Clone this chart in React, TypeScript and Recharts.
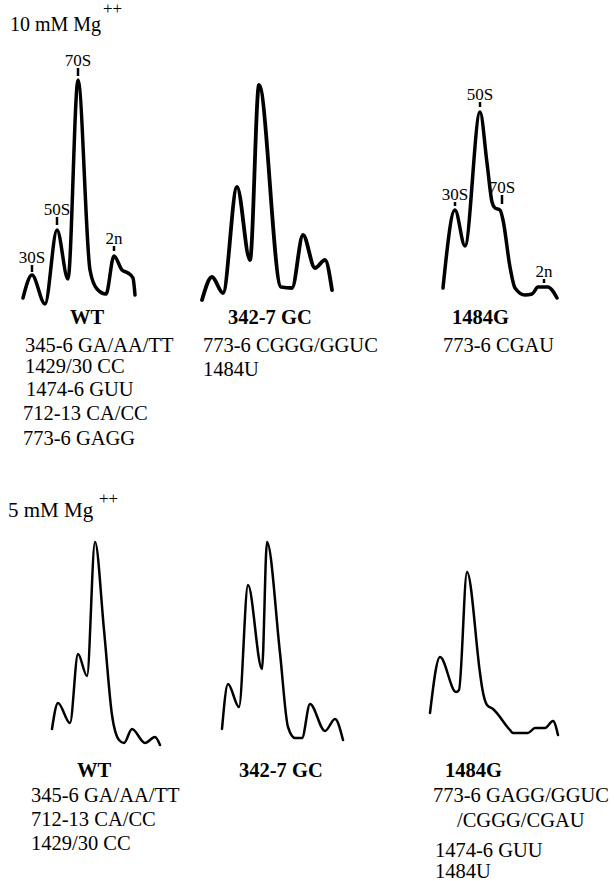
import React from 'react';
import { ComposedChart, Line, XAxis, YAxis, ReferenceLine, ReferenceDot } from 'recharts';

// Sedimentation profiles: pos = position along gradient, a260 = absorbance (arbitrary units)
const wt10 = [
  { pos: 8, a260: 12 }, { pos: 17, a260: 35 }, { pos: 30, a260: 6 }, { pos: 42, a260: 80 },
  { pos: 53, a260: 31 }, { pos: 63, a260: 230 }, { pos: 75, a260: 40 }, { pos: 82, a260: 21 },
  { pos: 91, a260: 16 }, { pos: 99, a260: 54 }, { pos: 107, a260: 40 }, { pos: 113, a260: 37 },
  { pos: 118, a260: 32 }, { pos: 120, a260: 15 },
];
const gc10 = [
  { pos: 7, a260: 10 }, { pos: 17, a260: 33 }, { pos: 28, a260: 17 }, { pos: 42, a260: 123 },
  { pos: 55, a260: 50 }, { pos: 64, a260: 225 }, { pos: 86, a260: 23 }, { pos: 97, a260: 22 },
  { pos: 108, a260: 75 }, { pos: 120, a260: 42 }, { pos: 130, a260: 50 }, { pos: 137, a260: 20 },
];
const g1484_10 = [
  { pos: 8, a260: 22 }, { pos: 20, a260: 100 }, { pos: 30, a260: 64 }, { pos: 45, a260: 198 },
  { pos: 52, a260: 147 }, { pos: 57, a260: 108 }, { pos: 60, a260: 102 }, { pos: 65, a260: 100 },
  { pos: 68, a260: 90 }, { pos: 75, a260: 43 }, { pos: 80, a260: 22 }, { pos: 90, a260: 15 },
  { pos: 97, a260: 16 }, { pos: 103, a260: 23 }, { pos: 113, a260: 23 }, { pos: 117, a260: 20 },
  { pos: 122, a260: 12 },
];
const wt5 = [
  { pos: 7, a260: 31 }, { pos: 13, a260: 57 }, { pos: 25, a260: 37 }, { pos: 33, a260: 106 },
  { pos: 42, a260: 84 }, { pos: 50, a260: 218 }, { pos: 59, a260: 130 }, { pos: 67, a260: 45 },
  { pos: 74, a260: 20 }, { pos: 79, a260: 17 }, { pos: 87, a260: 31 }, { pos: 100, a260: 17 },
  { pos: 110, a260: 23 }, { pos: 115, a260: 15 },
];
const gc5 = [
  { pos: 7, a260: 31 }, { pos: 13, a260: 76 }, { pos: 24, a260: 53 }, { pos: 33, a260: 175 },
  { pos: 47, a260: 91 }, { pos: 52, a260: 218 }, { pos: 65, a260: 107 }, { pos: 73, a260: 33 },
  { pos: 80, a260: 22 }, { pos: 87, a260: 22 }, { pos: 95, a260: 56 }, { pos: 110, a260: 29 },
  { pos: 120, a260: 41 }, { pos: 128, a260: 20 },
];
const g1484_5 = [
  { pos: 5, a260: 47 }, { pos: 15, a260: 103 }, { pos: 31, a260: 68 }, { pos: 34, a260: 70 },
  { pos: 42, a260: 188 }, { pos: 55, a260: 87 }, { pos: 57, a260: 73 }, { pos: 62, a260: 55 },
  { pos: 68, a260: 51 }, { pos: 85, a260: 30 }, { pos: 88, a260: 27 }, { pos: 103, a260: 27 },
  { pos: 110, a260: 32 }, { pos: 120, a260: 32 }, { pos: 128, a260: 39 }, { pos: 133, a260: 25 },
];

// Peak annotations (tick from..to in absorbance units)
const wt10Peaks = [
  { label: '30S', pos: 17, from: 38, to: 45 },
  { label: '50S', pos: 42, from: 85, to: 93 },
  { label: '70S', pos: 63, from: 234, to: 242 },
  { label: '2n', pos: 99, from: 59, to: 64 },
];
const g1484_10Peaks = [
  { label: '30S', pos: 20, from: 104, to: 108 },
  { label: '50S', pos: 45, from: 203, to: 208 },
  { label: '70S', pos: 67, from: 106, to: 115 },
  { label: '2n', pos: 109, from: 27, to: 31 },
];

const FONT = '"Liberation Serif", serif';

type Pt = { pos: number; a260: number };
type Peak = { label: string; pos: number; from: number; to: number };

function Profile(props: { data: Pt[]; peaks?: Peak[]; left: number; top: number; w: number; h: number; sw: number }) {
  const { data, peaks = [], left, top, w, h, sw } = props;
  return (
    <div style={{ position: 'absolute', left, top, width: w, height: h, fontFamily: FONT }}>
      <ComposedChart width={w} height={h} data={data} margin={{ top: 0, right: 0, bottom: 0, left: 0 }} style={{ overflow: 'visible', fontFamily: FONT }}>
        <XAxis dataKey="pos" type="number" domain={[0, w]} hide allowDataOverflow />
        <YAxis type="number" domain={[0, h]} hide allowDataOverflow />
        <Line
          type="monotone"
          dataKey="a260"
          stroke="#000"
          strokeWidth={sw}
          dot={false}
          activeDot={false}
          isAnimationActive={false}
          strokeLinecap="round"
          strokeLinejoin="round"
        />
        {peaks.map((p) => (
          <ReferenceLine
            key={'l' + p.label}
            segment={[{ x: p.pos, y: p.from }, { x: p.pos, y: p.to }]}
            stroke="#000"
            strokeWidth={2.5}
            ifOverflow="visible"
          />
        ))}
        {peaks.map((p) => (
          <ReferenceDot
            key={'d' + p.label}
            x={p.pos}
            y={p.to}
            r={0}
            fill="none"
            stroke="none"
            ifOverflow="visible"
            label={{ value: p.label, position: 'top', offset: 2, fill: '#000', fontSize: 17, style: { fontFamily: FONT } }}
          />
        ))}
      </ComposedChart>
    </div>
  );
}

type T = { t: string; x: number; y: number; b?: boolean; mid?: boolean };
const texts: T[] = [
  { t: 'WT', x: 87, y: 324, b: true, mid: true },
  { t: '345-6 GA/AA/TT', x: 25, y: 352 },
  { t: '1429/30 CC', x: 25, y: 373 },
  { t: '1474-6 GUU', x: 26, y: 396 },
  { t: '712-13 CA/CC', x: 23, y: 420 },
  { t: '773-6 GAGG', x: 23, y: 445 },
  { t: '342-7 GC', x: 228, y: 324, b: true },
  { t: '773-6 CGGG/GGUC', x: 203, y: 352 },
  { t: '1484U', x: 203, y: 376 },
  { t: '1484G', x: 452, y: 324, b: true },
  { t: '773-6 CGAU', x: 443, y: 352 },
  { t: 'WT', x: 94, y: 777, b: true, mid: true },
  { t: '345-6 GA/AA/TT', x: 31, y: 802 },
  { t: '712-13 CA/CC', x: 31, y: 826 },
  { t: '1429/30 CC', x: 31, y: 850 },
  { t: '342-7 GC', x: 239, y: 777, b: true },
  { t: '1484G', x: 445, y: 777, b: true },
  { t: '773-6 GAGG/GGUC', x: 433, y: 802 },
  { t: '/CGGG/CGAU', x: 457, y: 827 },
  { t: '1474-6 GUU', x: 435, y: 857 },
  { t: '1484U', x: 435, y: 878 },
];

export default function App() {
  return (
    <div style={{ position: 'absolute', left: 0, top: 0, width: 614, height: 881, background: '#fff', overflow: 'hidden', fontFamily: FONT }}>
      <svg width={614} height={881} style={{ position: 'absolute', left: 0, top: 0, fontFamily: FONT }}>
        <text x={10} y={31} style={{ fontFamily: FONT, fontSize: 20 }} fill="#000">10 mM Mg</text>
        <text x={103} y={14} style={{ fontFamily: FONT, fontSize: 17 }} fill="#000">++</text>
        <text x={8} y={517} style={{ fontFamily: FONT, fontSize: 21 }} fill="#000">5 mM Mg</text>
        <text x={99} y={504} style={{ fontFamily: FONT, fontSize: 17 }} fill="#000">++</text>
        {texts.map((d, i) => (
          <text
            key={i}
            x={d.x}
            y={d.y}
            textAnchor={d.mid ? 'middle' : 'start'}
            style={{ fontFamily: FONT, fontSize: 20.5, fontWeight: d.b ? 700 : 400 }}
            fill="#000"
          >
            {d.t}
          </text>
        ))}
      </svg>
      <Profile data={wt10} peaks={wt10Peaks} left={15} top={40} w={130} h={270} sw={3.5} />
      <Profile data={gc10} left={195} top={40} w={145} h={270} sw={3.8} />
      <Profile data={g1484_10} peaks={g1484_10Peaks} left={435} top={40} w={130} h={270} sw={3.5} />
      <Profile data={wt5} left={45} top={520} w={125} h={240} sw={2.5} />
      <Profile data={gc5} left={215} top={520} w={135} h={240} sw={2.5} />
      <Profile data={g1484_5} left={425} top={520} w={140} h={240} sw={2.5} />
    </div>
  );
}
